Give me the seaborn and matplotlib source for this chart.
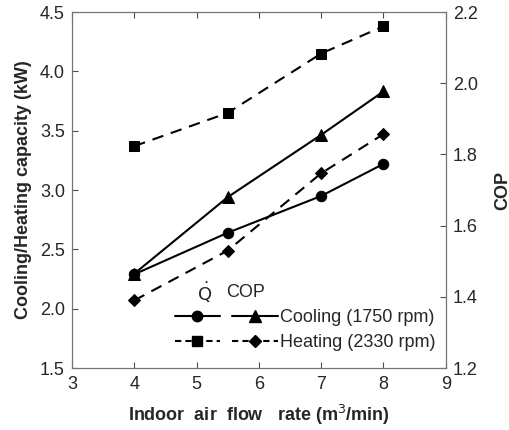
import matplotlib
matplotlib.use("Agg")
import matplotlib.pyplot as plt
from matplotlib.lines import Line2D
import seaborn as sns
import pandas as pd

flow_rate = [4, 5.5, 7, 8]
cooling_q = [2.29, 2.64, 2.95, 3.22]
heating_q = [3.37, 3.65, 4.15, 4.38]
cooling_cop = [1.465, 1.68, 1.855, 1.977]
heating_cop = [1.39, 1.53, 1.747, 1.857]

x_ticks = [3, 4, 5, 6, 7, 8, 9]
left_ticks = [1.5, 2.0, 2.5, 3.0, 3.5, 4.0, 4.5]
right_ticks = [1.2, 1.4, 1.6, 1.8, 2.0, 2.2]

sns.set_style("ticks")
plt.rcParams["font.family"] = ["Liberation Sans", "DejaVu Sans"]
plt.rcParams["mathtext.fontset"] = "dejavusans"

fig = plt.figure(figsize=(5.1, 4.3), dpi=100)
ax = fig.add_axes([0.141, 0.144, 0.733, 0.828])
ax2 = ax.twinx()

df = pd.DataFrame({"x": flow_rate, "cq": cooling_q, "hq": heating_q,
                   "cc": cooling_cop, "hc": heating_cop})

lw = 1.5
dash = (5.5, 3.8)
sns.lineplot(data=df, x="x", y="cq", ax=ax, color="black", marker="o",
             markersize=7.5, linewidth=lw, markeredgecolor="black")
sns.lineplot(data=df, x="x", y="hq", ax=ax, color="black", marker="s",
             markersize=7.5, linewidth=lw, markeredgecolor="black")
ax.lines[-1].set_dashes(dash)
sns.lineplot(data=df, x="x", y="cc", ax=ax2, color="black", marker="^",
             markersize=8, linewidth=lw, markeredgecolor="black")
sns.lineplot(data=df, x="x", y="hc", ax=ax2, color="black", marker="D",
             markersize=6, linewidth=lw, markeredgecolor="black")
ax2.lines[-1].set_dashes(dash)

ax.set_xlim(3, 9)
ax.set_ylim(1.5, 4.5)
ax2.set_ylim(1.2, 2.2)
ax.set_xticks(x_ticks)
ax.set_yticks(left_ticks)
ax2.set_yticks(right_ticks)
ax.set_xticklabels([str(t) for t in x_ticks])
ax.set_yticklabels([f"{t:.1f}" for t in left_ticks])
ax2.set_yticklabels([f"{t:.1f}" for t in right_ticks])

for a in (ax, ax2):
    for s in a.spines.values():
        s.set_visible(True)
        s.set_linewidth(0.8)
        s.set_color("0.45")
ax.tick_params(axis="x", direction="in", top=True, length=4, width=0.8,
               color="0.3", labelsize=13, pad=6)
ax.tick_params(axis="y", direction="in", length=4, width=0.8, color="0.3",
               labelsize=13, pad=5)
ax2.tick_params(axis="y", direction="in", length=4, width=0.8, color="0.3",
                labelsize=13, pad=5)

ax.set_xlabel("Indoor  air  flow   rate (m$^3$/min)", fontsize=13,
              fontweight="bold", labelpad=7)
ax.set_ylabel("Cooling/Heating capacity (kW)", fontsize=13,
              fontweight="bold", labelpad=6)
ax2.set_ylabel("COP", fontsize=13, fontweight="bold", labelpad=12)

h_cq = Line2D([], [], color="black", marker="o", markersize=7.5, linewidth=lw)
h_hq = Line2D([], [], color="black", marker="s", markersize=7.5, linewidth=lw,
              dashes=(3, 2))
h_cc = Line2D([], [], color="black", marker="^", markersize=8, linewidth=lw)
h_hc = Line2D([], [], color="black", marker="D", markersize=6, linewidth=lw,
              dashes=(3, 2))
leg = ax.legend([h_cq, h_hq, h_cc, h_hc],
                ["", "", "Cooling (1750 rpm)", "Heating (2330 rpm)"],
                ncol=2, frameon=False, fontsize=13, handlelength=2.5,
                handletextpad=0.15, columnspacing=0.55, labelspacing=0.42,
                borderpad=0, borderaxespad=0,
                loc="upper left", bbox_to_anchor=(0.275, 0.165))
ax.text(0.356, 0.213, r"$\dot{\mathrm{Q}}$", transform=ax.transAxes,
        fontsize=13, ha="center", va="center")
ax.text(0.465, 0.213, "COP", transform=ax.transAxes, fontsize=13,
        ha="center", va="center")

fig.savefig("out.png", dpi=100)
